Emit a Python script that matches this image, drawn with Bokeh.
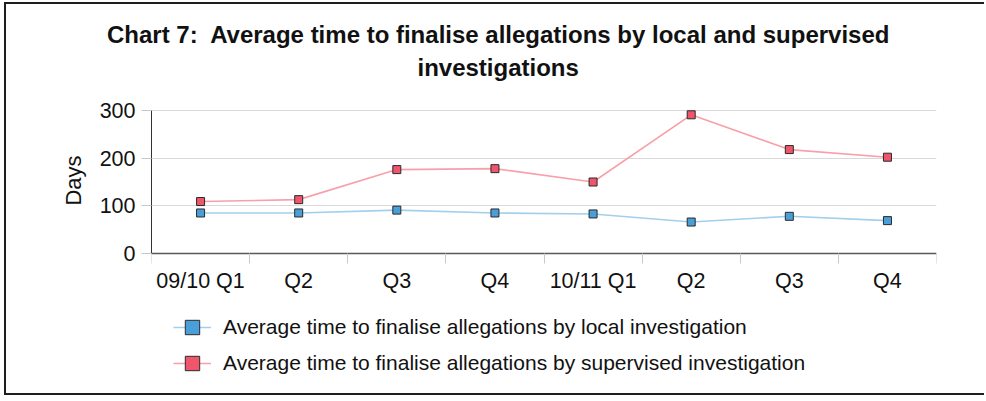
from bokeh.plotting import figure
from bokeh.models import FixedTicker, Legend, LegendItem, Range1d, Title, LinearAxis
from bokeh.embed import file_html
from bokeh.resources import INLINE

# ---- data ----
categories = ["09/10 Q1", "Q2", "Q3", "Q4", "10/11 Q1", "Q2", "Q3", "Q4"]
local_days = [85, 85, 91, 85, 83, 66, 78, 69]
supervised_days = [109, 113, 176, 178, 150, 291, 218, 202]
y_ticks = [0, 100, 200, 300]
title_lines = ["Chart 7:\u00a0 Average time to finalise allegations by local and supervised",
               "investigations"]
series_names = ["Average time to finalise allegations by local investigation",
                "Average time to finalise allegations by supervised investigation"]
y_label = "Days"

FONT = "Liberation Sans"
xs = [i + 0.5 for i in range(len(categories))]

# frame spans page y 82..395; value 0 sits at y=253, 300 at y=110
PX_PER_DAY = 143.0 / 300.0
y_lo = -(395 - 253) / PX_PER_DAY
y_hi = (253 - 82) / PX_PER_DAY

p = figure(width=980, height=393, output_backend="svg", toolbar_location=None,
           x_range=Range1d(0, len(categories)), y_range=Range1d(y_lo, y_hi),
           x_axis_location=None,
           min_border_left=147, min_border_right=48, min_border_top=80,
           min_border_bottom=0)
p.styles = {"margin": "2px 0px -12px 4px",
            "box-shadow": "inset 2px 2px 0px #1e1e1e, inset 0px -2px 0px #1e1e1e"}
p.outline_line_color = None
p.background_fill_color = None
p.border_fill_color = None

# lines and markers
lc = p.line(xs, local_days, line_color="#a3cfec", line_width=1.6)
ls = p.scatter(xs, local_days, marker="square", size=8, fill_color="#4a9fd8",
               line_color="#2a2a2a", line_width=1)
sc = p.line(xs, supervised_days, line_color="#f7a0aa", line_width=1.6)
ss = p.scatter(xs, supervised_days, marker="square", size=8, fill_color="#f0566b",
               line_color="#2a2a2a", line_width=1)

# x axis, drawn at Days = 0
xa = LinearAxis(fixed_location=0, bounds=(0, len(categories)))
xa.ticker = FixedTicker(ticks=xs, minor_ticks=list(range(len(categories) + 1)))
xa.major_label_overrides = {x: c for x, c in zip(xs, categories)}
xa.major_tick_line_color = None
xa.major_tick_out = 10
xa.major_tick_in = 0
xa.minor_tick_out = 10
xa.minor_tick_in = 0
xa.minor_tick_line_color = "#c8c8c8"
xa.axis_line_color = "#5a5a5a"
xa.axis_line_width = 1.5
xa.major_label_text_font = FONT
xa.major_label_text_font_size = "21.5px"
xa.major_label_text_color = "#111111"
xa.major_label_standoff = 5
p.add_layout(xa, "below")

# y axis
ya = p.yaxis[0]
ya.ticker = FixedTicker(ticks=y_ticks)
ya.bounds = (0, 300)
ya.major_tick_out = 10
ya.major_tick_in = 0
ya.major_tick_line_color = "#c8c8c8"
ya.minor_tick_line_color = None
ya.axis_line_color = "#333333"
ya.major_label_text_font = FONT
ya.major_label_text_font_size = "21.5px"
ya.major_label_text_color = "#111111"
ya.major_label_standoff = 6

p.xgrid.grid_line_color = None
p.ygrid.grid_line_color = "#d9d9d9"
p.ygrid.ticker = FixedTicker(ticks=y_ticks)

# y axis title (rotated), placed beside the 0-300 span
p.add_layout(Title(text=y_label, align="right", offset=73, text_font=FONT,
                   text_font_size="22px", text_font_style="normal",
                   text_color="#111111", standoff=22), "left")

# chart title: second line added first (closest to the plot), then first line
for txt, off, so in [(title_lines[1], 266, 4), (title_lines[0], -44.5, 3)]:
    p.add_layout(Title(text=txt, align="left", offset=off, text_font=FONT,
                       text_font_size="24px", text_font_style="bold",
                       text_color="#111111", standoff=so), "above")

legend = Legend(items=[LegendItem(label=series_names[0], renderers=[lc, ls]),
                       LegendItem(label=series_names[1], renderers=[sc, ss])],
                location=(22, 14), orientation="vertical",
                glyph_width=38, glyph_height=36, spacing=0, padding=0, margin=0,
                label_standoff=12, label_text_font=FONT, label_text_font_size="21px",
                label_text_color="#111111", border_line_color=None,
                background_fill_alpha=0)
p.add_layout(legend, "center")

open("out.html", "w").write(file_html(p, INLINE))
